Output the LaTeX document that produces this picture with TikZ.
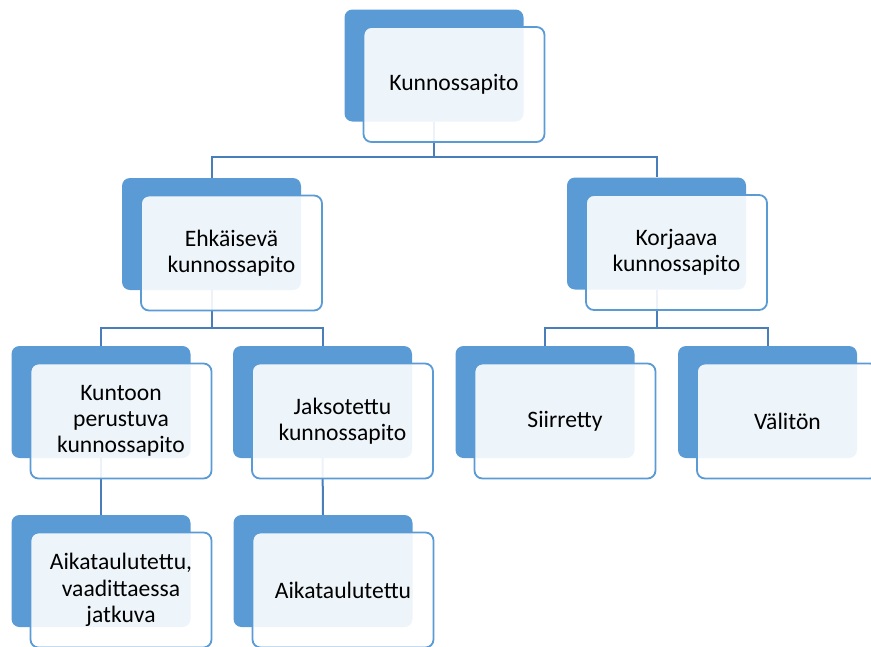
\documentclass[tikz,border=0pt]{standalone}
\usepackage{fontspec}
\setmainfont{Carlito}
\definecolor{accent}{HTML}{5B9BD5}
\definecolor{conn}{HTML}{4A7EBB}
\tikzset{
 backbox/.style={rectangle, rounded corners=8pt, fill=accent, minimum width=179pt, minimum height=112pt, inner sep=0pt},
 frontbox/.style={rectangle, rounded corners=8pt, draw=accent, line width=1.8pt, fill=white, fill opacity=0.9, text opacity=1, draw opacity=1, minimum width=181pt, minimum height=115pt, inner sep=0pt, text width=178pt, align=center, font=\fontsize{23.6}{26.3}\selectfont, text=black},
 link/.style={draw=conn, line width=2pt}
}
\begin{document}
\begin{tikzpicture}[x=1pt,y=-1pt]
\useasboundingbox (0,0) rectangle (871,646);
\clip (0,0) rectangle (871,646);
% back boxes
\node[backbox] (b0) at (434,65.5) {};
\node[backbox] (b1) at (211.5,234) {};
\node[backbox] (b2) at (656.5,233.5) {};
\node[backbox] (b3) at (101,402) {};
\node[backbox] (b4) at (322.5,402) {};
\node[backbox] (b5) at (545,402) {};
\node[backbox] (b6) at (767.5,402) {};
\node[backbox] (b7) at (101,571) {};
\node[backbox] (b8) at (323,571) {};
% connectors
\coordinate (j0) at (434,157);
\coordinate (j1) at (211.5,328);
\coordinate (j2) at (656.5,328);
\draw[link] (b0.south) -- (j0) -| (b1.north);
\draw[link] (j0) -| (b2.north);
\draw[link] (b1.south) -- (j1) -| (b3.north);
\draw[link] (j1) -| (b4.north);
\draw[link] (b2.south) -- (j2) -| (b5.north);
\draw[link] (j2) -| (b6.north);
\draw[link] (b3.south) -- (b7.north);
\draw[link] (b4.south) -- (b8.north);
% front boxes
\node[frontbox] (f0) at ([shift={(20pt,-19pt)}]b0.center) {Kunnossapito};
\node[frontbox] (f1) at ([shift={(20pt,-19pt)}]b1.center) {Ehkäisevä\\kunnossapito};
\node[frontbox] (f2) at ([shift={(20pt,-19pt)}]b2.center) {Korjaava\\kunnossapito};
\node[frontbox] (f3) at ([shift={(20pt,-19pt)}]b3.center) {Kuntoon\\perustuva\\kunnossapito};
\node[frontbox] (f4) at ([shift={(20pt,-19pt)}]b4.center) {Jaksotettu\\kunnossapito};
\node[frontbox] (f5) at ([shift={(20pt,-19pt)}]b5.center) {Siirretty};
\node[frontbox] (f6) at ([shift={(20pt,-19pt)}]b6.center) {Välitön};
\node[frontbox] (f7) at ([shift={(20pt,-19pt)}]b7.center) {Aikataulutettu,\\vaadittaessa\\jatkuva};
\node[frontbox] (f8) at ([shift={(20pt,-19pt)}]b8.center) {Aikataulutettu};
\end{tikzpicture}
\end{document}
